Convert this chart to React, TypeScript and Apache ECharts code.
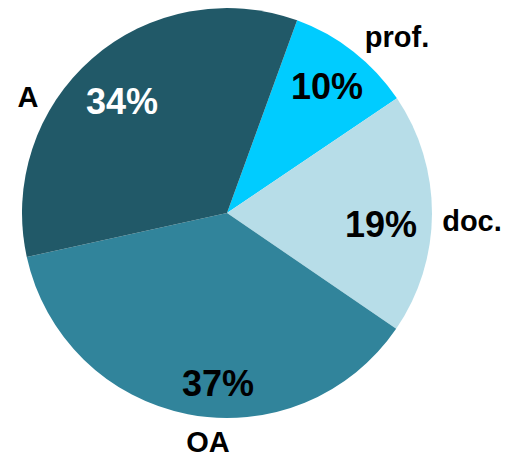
import React, { useEffect, useRef } from "react";
import * as echarts from "echarts";

const categories = ["prof.", "doc.", "OA", "A"];
const shares = [10, 19, 37, 34];
const sliceColors = ["#00CCFF", "#B7DDE8", "#31849B", "#215968"];
const pctTextColors = ["#000000", "#000000", "#000000", "#FFFFFF"];

// label placement (styling)
const pctLabelPos = [
  [327, 86],
  [381, 224],
  [218, 383],
  [122, 101],
];
const catLabelPos = [
  [397, 37],
  [472, 221],
  [208, 442],
  [28, 97],
];

const FONT = "'Liberation Sans Narrow', 'Arial Narrow', 'Liberation Sans', Arial, sans-serif";

export default function App() {
  const ref = useRef<HTMLDivElement>(null);
  useEffect(() => {
    if (!ref.current) return;
    const chart = echarts.init(ref.current, undefined, { renderer: "svg" });
    const data = categories.map((name, i) => ({
      name,
      value: shares[i],
      itemStyle: { color: sliceColors[i] },
      label: { color: pctTextColors[i] },
    }));
    chart.setOption({
      animation: false,
      series: [
        {
          type: "pie",
          center: [227, 213],
          radius: [0, 205],
          startAngle: 70,
          clockwise: true,
          silent: true,
          data,
          itemStyle: { borderWidth: 0 },
          label: {
            show: true,
            position: "inside",
            formatter: "{d}%",
            fontFamily: FONT,
            fontWeight: "bold",
            fontSize: 36,
          },
          labelLine: { show: false },
          labelLayout: (p: any) => ({
            x: pctLabelPos[p.dataIndex][0],
            y: pctLabelPos[p.dataIndex][1],
            align: "center",
            verticalAlign: "middle",
          }),
        },
        {
          type: "pie",
          center: [227, 213],
          radius: [0, 205],
          startAngle: 70,
          clockwise: true,
          silent: true,
          data: categories.map((name, i) => ({ name, value: shares[i] })),
          itemStyle: { color: "rgba(0,0,0,0)", borderWidth: 0 },
          label: {
            show: true,
            position: "inside",
            formatter: "{b}",
            color: "#000000",
            fontFamily: FONT,
            fontWeight: "bold",
            fontSize: 29,
          },
          labelLine: { show: false },
          labelLayout: (p: any) => ({
            x: catLabelPos[p.dataIndex][0],
            y: catLabelPos[p.dataIndex][1],
            align: "center",
            verticalAlign: "middle",
          }),
        },
      ],
    });
    return () => chart.dispose();
  }, []);
  return (
    <div
      ref={ref}
      style={{ position: "absolute", left: 0, top: 0, width: 508, height: 460, background: "#fff" }}
    />
  );
}
